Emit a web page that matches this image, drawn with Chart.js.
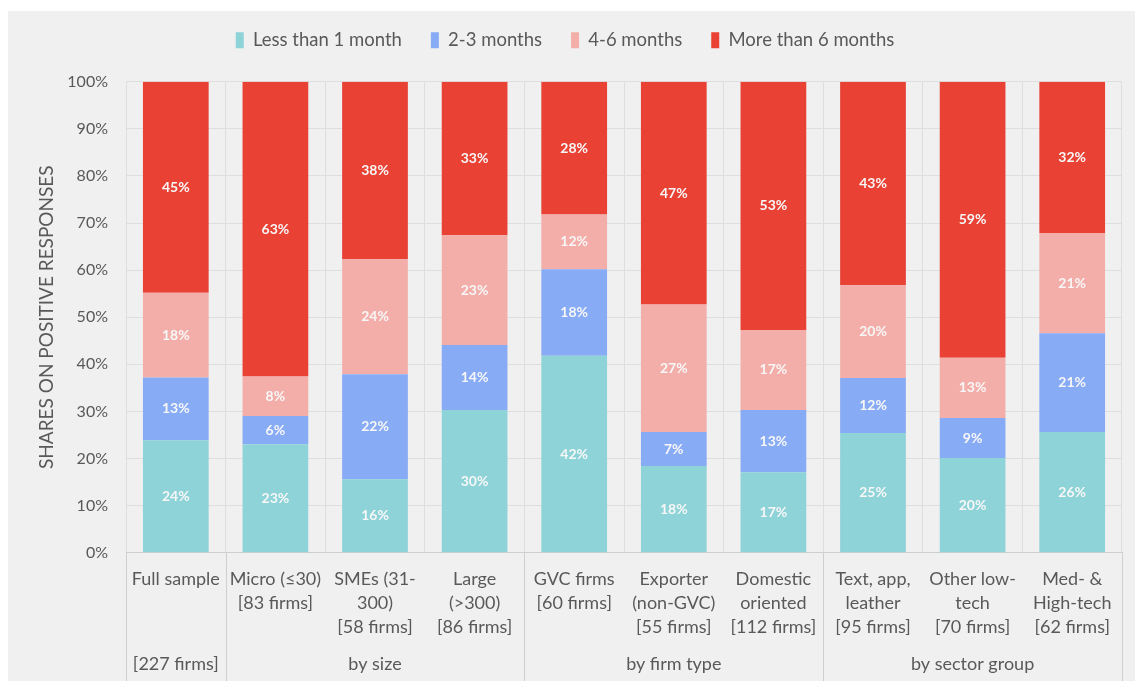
<!DOCTYPE html>
<html>
<head>
<meta charset="utf-8">
<script src="https://cdn.jsdelivr.net/npm/chart.js@4.4.1/dist/chart.umd.min.js"></script>
<style>
  html, body { margin: 0; padding: 0; background: #fff; }
  #wrap {
    position: absolute; left: 8px; top: 11px;
    width: 1127px; height: 670px; background: #f0f0f0;
  }
</style>
</head>
<body>
<div id="wrap"><canvas id="chart" width="1127" height="670"></canvas></div>
<script>
// categories (multi-line tick labels)
const categories = [
  ["Full sample"],
  ["Micro (\u226430)", "[83 firms]"],
  ["SMEs (31-", "300)", "[58 firms]"],
  ["Large", "(>300)", "[86 firms]"],
  ["GVC firms", "[60 firms]"],
  ["Exporter", "(non-GVC)", "[55 firms]"],
  ["Domestic", "oriented", "[112 firms]"],
  ["Text, app,", "leather", "[95 firms]"],
  ["Other low-", "tech", "[70 firms]"],
  ["Med- &", "High-tech", "[62 firms]"],
];

// group row under the categories: [label, first index, last index + 1]
const groups = [
  ["[227 firms]", 0, 1],
  ["by size", 1, 4],
  ["by firm type", 4, 7],
  ["by sector group", 7, 10],
];

// shares (%) per series
const lessThan1 = [23.9, 23.0, 15.6, 30.3, 41.8, 18.4, 17.1, 25.4, 20.1, 25.6];
const months2to3 = [13.3, 6.0, 22.3, 13.8, 18.4, 7.2, 13.2, 11.7, 8.5, 21.0];
const months4to6 = [18.0, 8.4, 24.4, 23.3, 11.6, 27.1, 17.0, 19.7, 12.8, 21.3];
const moreThan6 = [44.8, 62.6, 37.7, 32.6, 28.2, 47.3, 52.7, 43.2, 58.6, 32.1];

const seriesNames = ["Less than 1 month", "2-3 months", "4-6 months", "More than 6 months"];
const colors = ["#8dd3d8", "#88abf5", "#f4aeaa", "#e94234"];

const FONT = "Lato, 'Open Sans', sans-serif";
const TXT = "#595959";

// white % labels in the middle of each segment
const barLabels = {
  id: "barLabels",
  afterDatasetsDraw(chart) {
    const ctx = chart.ctx;
    ctx.save();
    ctx.font = "bold 14px " + FONT;
    ctx.fillStyle = "#f7f7f7";
    ctx.textAlign = "center";
    ctx.textBaseline = "middle";
    chart.data.datasets.forEach((ds, i) => {
      chart.getDatasetMeta(i).data.forEach((bar, j) => {
        ctx.fillText(Math.round(ds.data[j]) + "%", bar.x, (bar.y + bar.base) / 2);
      });
    });
    ctx.restore();
  },
};

// group separators and group captions below the axis
const groupAxis = {
  id: "groupAxis",
  afterInit(chart) {
    const fit = chart.legend.fit;
    chart.legend.fit = function () {
      fit.call(this);
      this.height = 79.7;
    };
  },
  afterDraw(chart) {
    const ctx = chart.ctx;
    const x = chart.scales.x;
    const step = x.getPixelForValue(1) - x.getPixelForValue(0);
    const edge = (i) => x.getPixelForValue(i) - step / 2;
    const bottom = chart.chartArea.bottom;
    ctx.save();
    ctx.strokeStyle = "#cfcfcf";
    ctx.lineWidth = 1;
    const cuts = [0].concat(groups.map((g) => g[2]));
    cuts.forEach((c) => {
      const px = Math.round(edge(c)) + 0.5;
      ctx.beginPath();
      ctx.moveTo(px, bottom);
      ctx.lineTo(px, chart.height);
      ctx.stroke();
    });
    ctx.font = "18px " + FONT;
    ctx.fillStyle = TXT;
    ctx.textAlign = "center";
    ctx.textBaseline = "middle";
    groups.forEach((g) => {
      const cx = (edge(g[1]) + edge(g[2])) / 2;
      ctx.fillText(g[0], cx, 653);
    });
    ctx.restore();
  },
};

new Chart(document.getElementById("chart"), {
  type: "bar",
  data: {
    labels: categories,
    datasets: [lessThan1, months2to3, months4to6, moreThan6].map((d, i) => ({
      label: seriesNames[i],
      data: d,
      backgroundColor: colors[i],
      borderWidth: 0,
      categoryPercentage: 1,
      barPercentage: 0.66,
    })),
  },
  options: {
    responsive: false,
    animation: false,
    layout: { padding: { top: -9, right: 13, left: 0, bottom: 0 } },
    plugins: {
      legend: {
        position: "top",
        labels: {
          boxWidth: 8,
          boxHeight: 16,
          padding: 29,
          color: TXT,
          font: { family: FONT, size: 18.5 },
        },
      },
      tooltip: { enabled: false },
    },
    scales: {
      x: {
        stacked: true,
        afterFit: (s) => { s.height = 128.3; },
        grid: { color: "#dedede", drawTicks: false, offset: true },
        border: { color: "#cfcfcf" },
        ticks: {
          autoSkip: false,
          maxRotation: 0,
          padding: 14,
          color: TXT,
          font: { family: FONT, size: 18, lineHeight: "24px" },
        },
      },
      y: {
        stacked: true,
        min: 0,
        max: 100,
        afterFit: (s) => { s.width = 118; },
        grid: { color: "#dedede", drawTicks: false },
        border: { display: false },
        ticks: {
          stepSize: 10,
          padding: 18,
          color: TXT,
          font: { family: FONT, size: 16 },
          callback: (v) => v + "%",
        },
        title: {
          display: true,
          text: "SHARES ON POSITIVE RESPONSES",
          color: TXT,
          padding: { top: 27.6, bottom: 0 },
          font: { family: FONT, size: 19 },
        },
      },
    },
  },
  plugins: [barLabels, groupAxis],
});
</script>
</body>
</html>
